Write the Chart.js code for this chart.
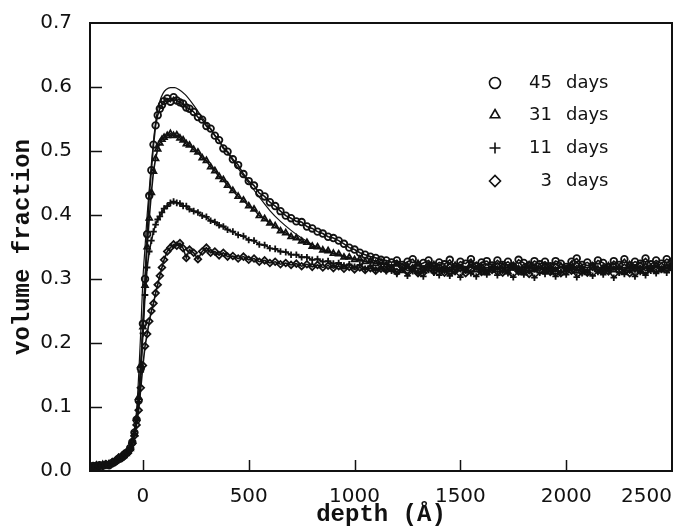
<!DOCTYPE html>
<html>
<head>
<meta charset="utf-8">
<script src="https://cdn.jsdelivr.net/npm/chart.js@4.4.1/dist/chart.umd.min.js"></script>
<style>
html,body{margin:0;padding:0;background:#fff;}
canvas{display:block;}
</style>
</head>
<body>
<canvas id="c" width="679" height="531"></canvas>
<script>
// depth grid (Å)
const depth = [
  -250,-235,-220,-205,-190,-175,-160,-145,-130,-115,-100,
  -90,-80,-70,-60,-50,-40,-30,-20,-10,0,10,20,30,40,50,60,70,80,90,100,
  115,130,145,160,175,190,205,220,
  240,260,280,300,320,340,360,380,400,
  425,450,475,500,525,550,575,600,625,650,
  675,700,725,750,775,800,825,850,875,900,
  925,950,975,1000,1025,1050,1075,1100,1125,1150,
  1175,1200,1225,1250,1275,1300,1325,1350,1375,1400,
  1425,1450,1475,1500,1525,1550,1575,1600,1625,1650,
  1675,1700,1725,1750,1775,1800,1825,1850,1875,1900,
  1925,1950,1975,2000,2025,2050,2075,2100,2125,2150,
  2175,2200,2225,2250,2275,2300,2325,2350,2375,2400,
  2425,2450,2475,2500
];

const days45 = [
  0.006,0.008,0.007,0.009,0.008,0.010,0.009,0.012,0.015,0.019,0.022,
  0.025,0.028,0.030,0.036,0.045,0.060,0.080,0.110,0.160,0.230,0.300,0.370,0.430,0.470,0.510,0.540,0.556,0.566,0.572,0.578,
  0.582,0.577,0.584,0.579,0.576,0.574,0.568,0.566,
  0.561,0.553,0.549,0.539,0.535,0.524,0.517,0.504,0.499,
  0.487,0.478,0.464,0.453,0.446,0.434,0.429,0.420,0.414,0.406,
  0.399,0.395,0.390,0.389,0.382,0.379,0.374,0.371,0.366,0.364,
  0.360,0.355,0.349,0.346,0.341,0.338,0.335,0.333,0.330,0.329,
  0.326,0.329,0.322,0.327,0.331,0.321,0.325,0.329,0.320,0.326,
  0.323,0.330,0.319,0.327,0.324,0.331,0.320,0.326,0.328,0.321,
  0.329,0.322,0.327,0.319,0.330,0.325,0.321,0.328,0.323,0.327,
  0.320,0.328,0.324,0.319,0.327,0.332,0.322,0.326,0.320,0.329,
  0.325,0.319,0.328,0.322,0.331,0.321,0.327,0.324,0.332,0.323,
  0.329,0.324,0.331,0.327
];

const days31 = [
  0.007,0.006,0.009,0.008,0.010,0.009,0.011,0.013,0.016,0.020,0.023,
  0.024,0.027,0.031,0.035,0.047,0.058,0.082,0.115,0.165,0.225,0.290,0.350,0.395,0.435,0.468,0.488,0.503,0.512,0.518,0.521,
  0.524,0.527,0.524,0.525,0.520,0.517,0.511,0.509,
  0.502,0.498,0.489,0.485,0.475,0.469,0.460,0.455,0.446,
  0.438,0.429,0.423,0.414,0.409,0.399,0.394,0.387,0.383,0.375,
  0.372,0.366,0.364,0.359,0.357,0.351,0.350,0.345,0.344,0.340,
  0.339,0.334,0.334,0.330,0.331,0.327,0.328,0.324,0.326,0.322,
  0.318,0.323,0.313,0.320,0.315,0.324,0.312,0.319,0.322,0.314,
  0.317,0.311,0.321,0.316,0.313,0.323,0.314,0.319,0.310,0.318,
  0.314,0.320,0.311,0.318,0.316,0.310,0.322,0.314,0.319,0.312,
  0.318,0.311,0.320,0.314,0.322,0.312,0.317,0.310,0.320,0.315,
  0.312,0.320,0.314,0.318,0.310,0.322,0.316,0.312,0.320,0.316,
  0.321,0.314,0.319,0.317
];

const days11 = [
  0.005,0.008,0.006,0.008,0.009,0.008,0.012,0.011,0.017,0.018,0.021,
  0.026,0.026,0.029,0.037,0.044,0.062,0.079,0.108,0.155,0.215,0.275,0.318,0.343,0.360,0.374,0.385,0.393,0.398,0.404,0.410,
  0.414,0.419,0.421,0.419,0.418,0.414,0.414,0.409,
  0.406,0.404,0.399,0.397,0.391,0.389,0.384,0.382,0.377,
  0.374,0.369,0.367,0.361,0.360,0.354,0.353,0.348,0.347,0.343,
  0.342,0.338,0.338,0.334,0.334,0.330,0.331,0.327,0.328,0.324,
  0.325,0.321,0.323,0.319,0.322,0.316,0.320,0.314,0.318,0.312,
  0.313,0.308,0.315,0.305,0.312,0.309,0.304,0.314,0.310,0.306,
  0.313,0.305,0.311,0.303,0.314,0.309,0.304,0.312,0.307,0.315,
  0.306,0.313,0.309,0.303,0.312,0.307,0.314,0.302,0.310,0.308,
  0.312,0.304,0.311,0.307,0.315,0.303,0.309,0.313,0.305,0.311,
  0.307,0.313,0.302,0.310,0.308,0.314,0.304,0.311,0.306,0.313,
  0.309,0.314,0.310,0.315
];

const days3 = [
  0.007,0.005,0.008,0.007,0.008,0.011,0.010,0.014,0.014,0.021,0.020,
  0.023,0.027,0.030,0.034,0.043,0.055,0.072,0.095,0.130,0.165,0.195,0.214,0.234,0.250,0.262,0.278,0.291,0.305,0.318,0.330,
  0.343,0.349,0.354,0.352,0.356,0.348,0.333,0.346,
  0.341,0.331,0.343,0.349,0.341,0.343,0.337,0.341,0.335,
  0.336,0.332,0.335,0.330,0.332,0.327,0.329,0.325,0.327,0.323,
  0.325,0.322,0.324,0.320,0.323,0.319,0.322,0.318,0.321,0.317,
  0.320,0.316,0.319,0.315,0.318,0.314,0.317,0.313,0.316,0.314,
  0.316,0.311,0.319,0.313,0.317,0.309,0.315,0.321,0.312,0.318,
  0.310,0.319,0.313,0.317,0.309,0.315,0.321,0.311,0.318,0.314,
  0.320,0.310,0.315,0.321,0.312,0.318,0.308,0.317,0.313,0.320,
  0.311,0.319,0.309,0.316,0.313,0.321,0.315,0.310,0.319,0.314,
  0.317,0.312,0.320,0.314,0.318,0.309,0.316,0.321,0.313,0.318,
  0.315,0.320,0.317,0.322
];

// model curve for 45 days
const fitDepth = [-250,-150,-100,-60,-40,-25,-10,0,10,20,30,40,50,60,70,80,95,110,130,150,170,200,230,260,300,350,400,450,500,550,600,650,700,750,800,850,900,950,1000,1100,1200,1300,1500,2000,2500];
const fit45 = [0.005,0.008,0.015,0.030,0.060,0.120,0.220,0.300,0.350,0.400,0.440,0.480,0.515,0.545,0.565,0.578,0.590,0.596,0.599,0.599,0.596,0.588,0.576,0.562,0.543,0.520,0.497,0.473,0.450,0.428,0.407,0.390,0.376,0.364,0.354,0.346,0.340,0.335,0.331,0.325,0.321,0.319,0.318,0.318,0.318];

const xTickValues = [-250,0,500,1000,1500,2000,2500];
const yTickValues = [0,0.1,0.2,0.3,0.4,0.5,0.6,0.7];
const seriesLabels = ['45 days','31 days','11 days','3 days'];
const seriesStyles = ['circle','triangle','cross','rectRot'];

const toXY = (xs, ys) => xs.map((x, i) => ({x: x, y: ys[i]}));
const seriesValues = [days45, days31, days11, days3];

const INK = '#111';

const datasets = seriesValues.map((vals, i) => ({
  label: seriesLabels[i],
  data: toXY(depth, vals),
  showLine: true,
  borderWidth: 1.6,
  borderColor: INK,
  tension: 0,
  fill: false,
  pointStyle: seriesStyles[i],
  pointRadius: 3.3,
  pointBorderWidth: 1.8,
  pointBorderColor: INK,
  pointBackgroundColor: 'rgba(255,255,255,0)'
}));
datasets.push({
  label: 'fit',
  data: toXY(fitDepth, fit45),
  showLine: true,
  pointRadius: 0,
  borderColor: INK,
  borderWidth: 1.2,
  cubicInterpolationMode: 'monotone',
  fill: false
});

const framePlugin = {
  id: 'frameTicks',
  afterDatasetsDraw(chart) {
    const ctx = chart.ctx;
    const a = chart.chartArea;
    const xs = chart.scales.x, ys = chart.scales.y;
    ctx.save();
    ctx.strokeStyle = INK;
    ctx.lineWidth = 2;
    ctx.strokeRect(a.left, a.top, a.right - a.left, a.bottom - a.top);
    ctx.lineWidth = 1.5;
    ctx.beginPath();
    xTickValues.forEach(v => {
      if (v <= -250 || v >= 2500) return;
      const px = Math.round(xs.getPixelForValue(v)) + 0.5;
      ctx.moveTo(px, a.bottom);
      ctx.lineTo(px, a.bottom - 11);
    });
    yTickValues.forEach(v => {
      if (v <= 0 || v >= 0.7) return;
      const py = Math.round(ys.getPixelForValue(v)) + 0.5;
      ctx.moveTo(a.left, py);
      ctx.lineTo(a.left + 12, py);
    });
    ctx.stroke();
    ctx.restore();
  },
  afterDraw(chart) {
    const ctx = chart.ctx;
    const a = chart.chartArea;
    const symX = a.left + 405;
    const numRight = a.left + 462;
    const wordLeft = a.left + 476;
    const rowY = [a.top + 60, a.top + 92, a.top + 125, a.top + 158];
    ctx.save();
    ctx.font = '18px "DejaVu Sans"';
    ctx.fillStyle = INK;
    ctx.textBaseline = 'middle';
    seriesLabels.forEach((lab, i) => {
      const parts = lab.split(' ');
      ctx.textAlign = 'right';
      ctx.fillText(parts[0], numRight, rowY[i]);
      ctx.textAlign = 'left';
      ctx.fillText(parts[1], wordLeft, rowY[i]);
      ctx.strokeStyle = INK;
      ctx.fillStyle = '#fff';
      ctx.lineWidth = 1.6;
      Chart.helpers.drawPoint(ctx, {pointStyle: seriesStyles[i], radius: 5.5, rotation: 0, borderWidth: 1.6}, symX, rowY[i]);
      ctx.fillStyle = INK;
    });
    ctx.restore();
  }
};

new Chart(document.getElementById('c'), {
  type: 'scatter',
  data: { datasets: datasets },
  options: {
    responsive: false,
    animation: false,
    devicePixelRatio: 1,
    layout: { padding: { top: 23, right: 7, left: 0, bottom: 0 } },
    plugins: { legend: { display: false }, tooltip: { enabled: false } },
    scales: {
      x: {
        type: 'linear',
        min: -250,
        max: 2500,
        grid: { display: false },
        border: { display: false },
        afterBuildTicks(scale) { scale.ticks = xTickValues.map(v => ({value: v})); },
        afterFit(scale) { scale.height = 60; scale.paddingLeft = 0; scale.paddingRight = 0; },
        ticks: {
          align: 'inner',
          padding: 6,
          color: INK,
          font: { family: '"DejaVu Sans"', size: 20 },
          callback: (v) => (v === -250 ? '' : String(v))
        },
        title: {
          display: true,
          text: 'depth (Å)',
          color: INK,
          font: { family: '"Liberation Mono"', size: 24, weight: 'bold' },
          padding: { top: 0, bottom: 2 }
        }
      },
      y: {
        type: 'linear',
        min: 0,
        max: 0.7,
        grid: { display: false },
        border: { display: false },
        afterBuildTicks(scale) { scale.ticks = yTickValues.map(v => ({value: v})); },
        afterFit(scale) { scale.width = 90; scale.paddingTop = 0; scale.paddingBottom = 0; },
        ticks: {
          padding: 10,
          color: INK,
          font: { family: '"DejaVu Sans"', size: 20 },
          callback: (v) => Number(v).toFixed(1)
        },
        title: {
          display: true,
          text: 'volume fraction',
          color: INK,
          font: { family: '"Liberation Mono"', size: 24, weight: 'bold' },
          padding: { top: 9, bottom: 0 }
        }
      }
    }
  },
  plugins: [framePlugin]
});
</script>
</body>
</html>
